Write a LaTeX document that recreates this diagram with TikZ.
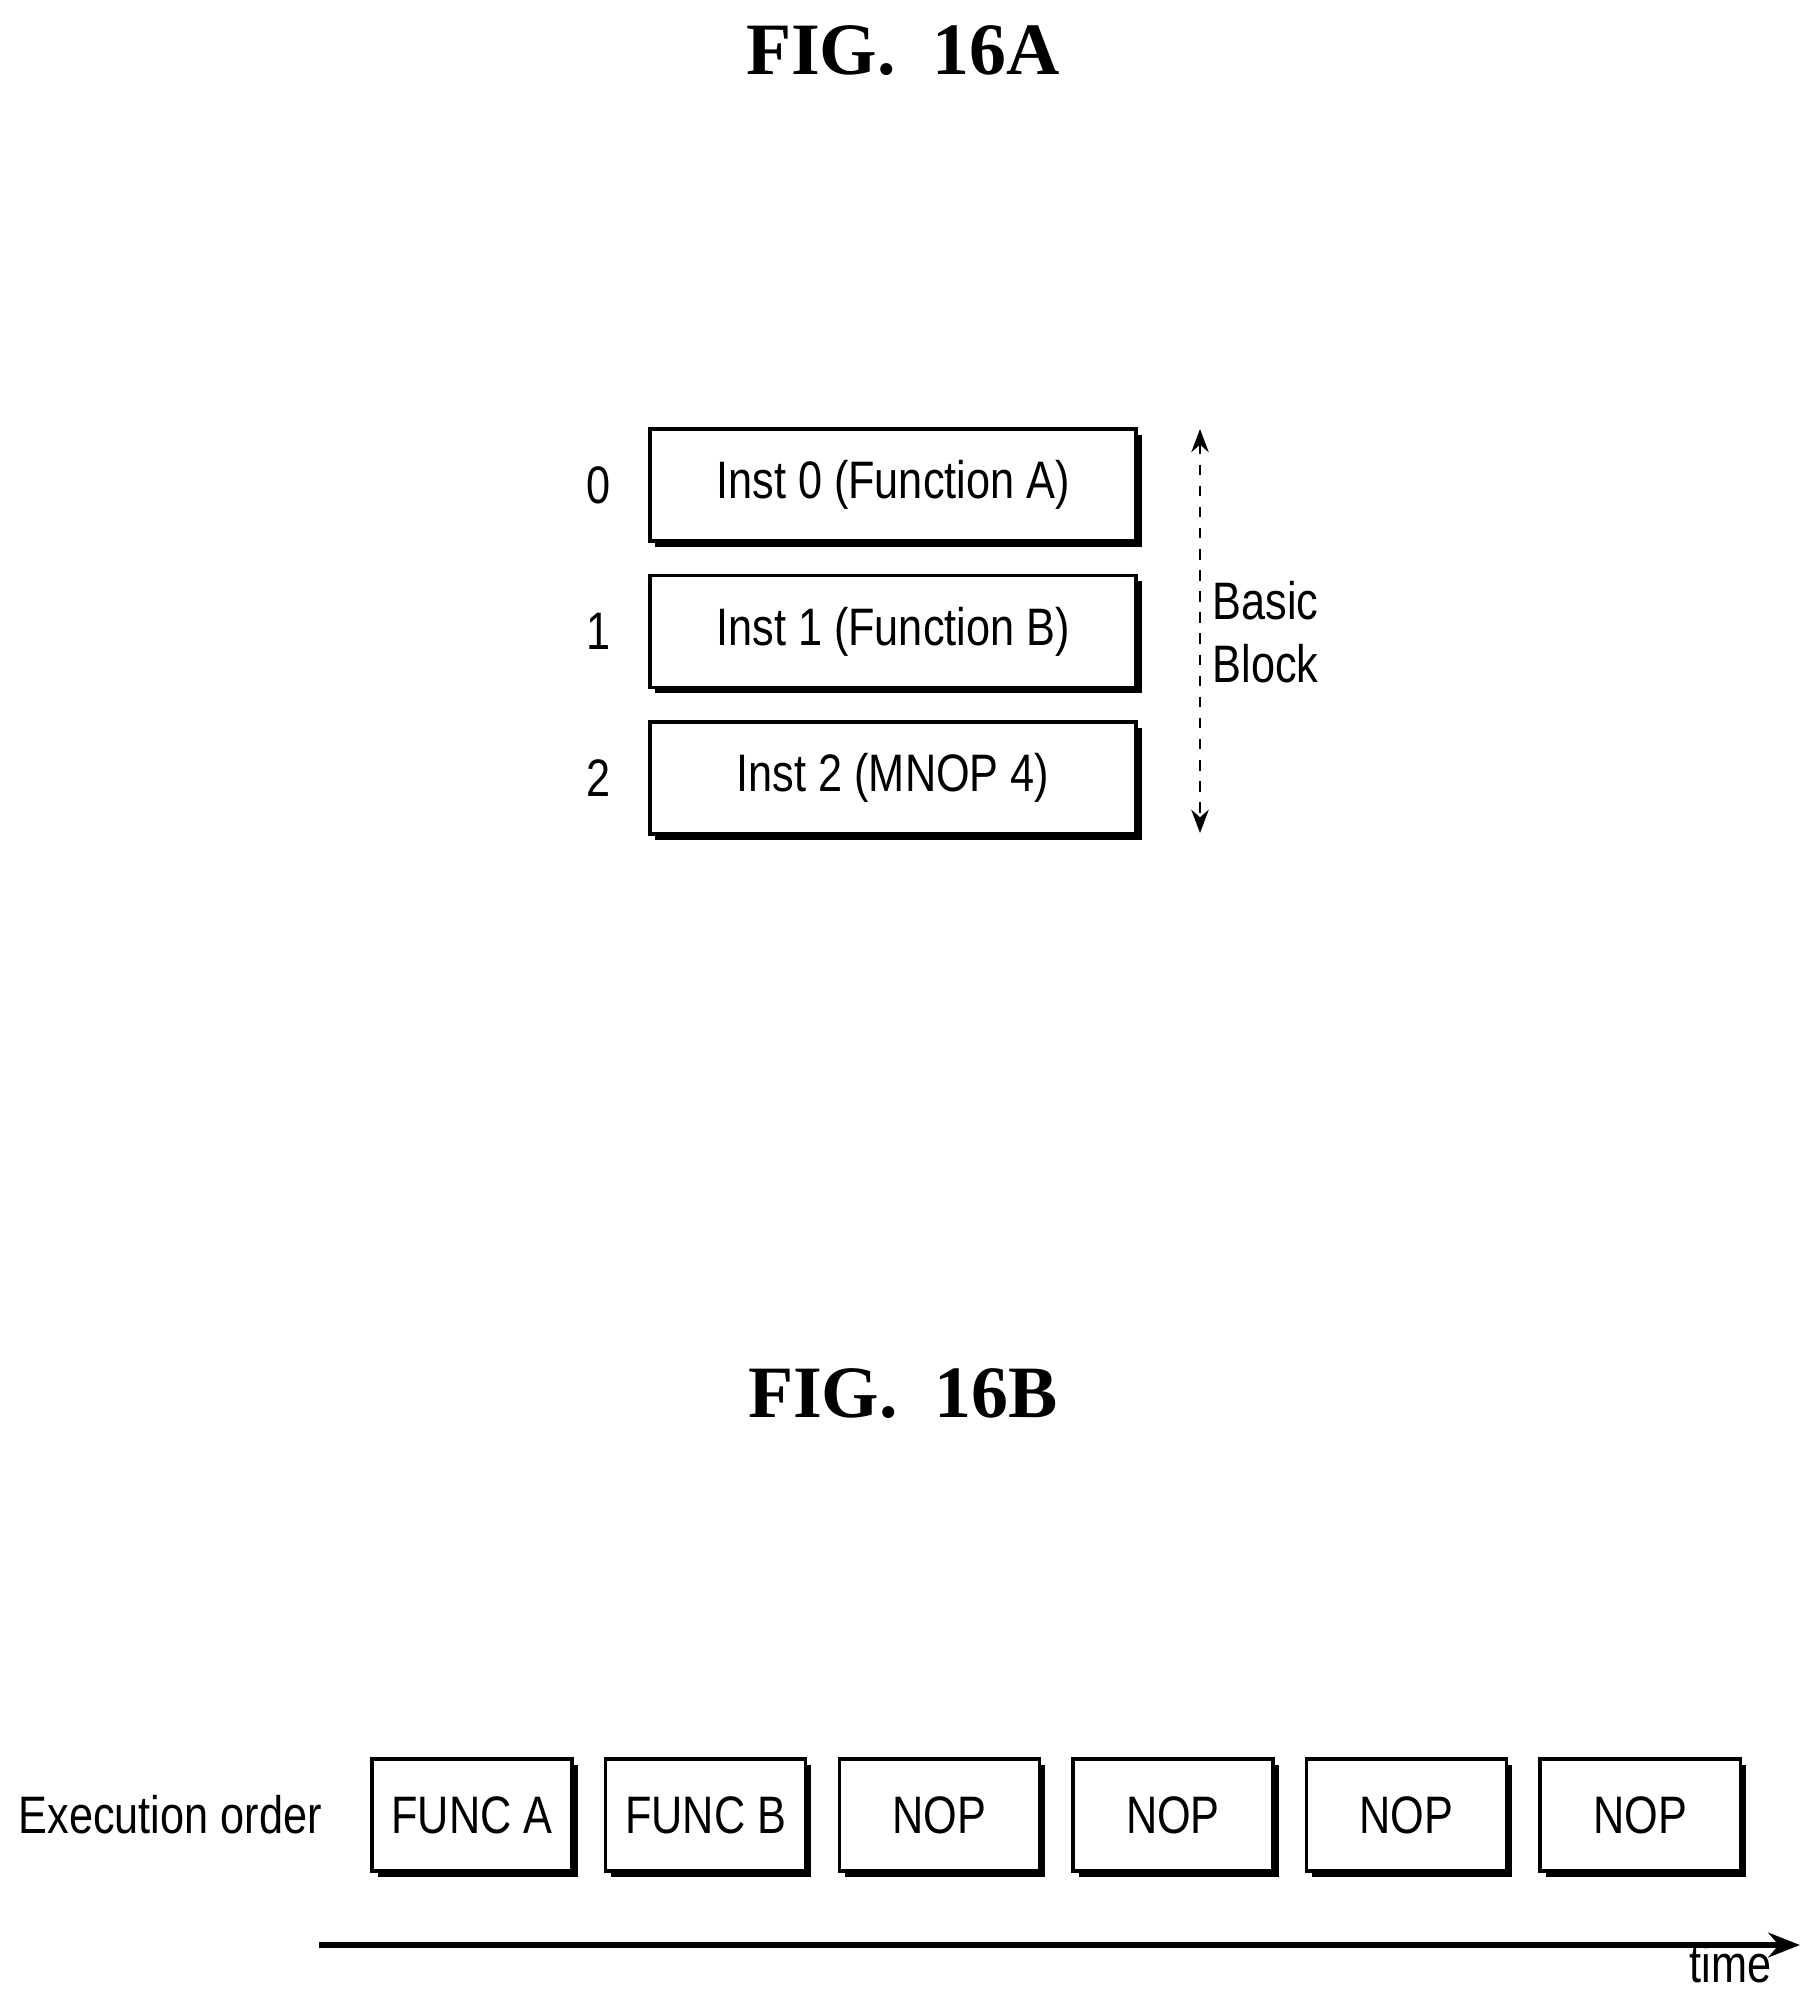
\documentclass[tikz,border=0pt]{standalone}
\usepackage{fontspec}
\setmainfont{Liberation Sans}[FakeStretch=0.82]
\newfontfamily\figfont{Liberation Serif}
\usetikzlibrary{positioning,shadows,arrows.meta}
\begin{document}
\begin{tikzpicture}[x=0.01cm, y=-0.01cm,
    >=Stealth,
    box/.style={draw, line width=1pt, fill=white, minimum height=1.12cm,
        font=\fontsize{15}{18}\selectfont,
        drop shadow={shadow xshift=1.6pt, shadow yshift=-1.6pt, fill=black, opacity=1}},
    instbox/.style={box, minimum width=4.86cm},
    execbox/.style={box, minimum width=2.0cm},
    label/.style={font=\fontsize{15}{18}\selectfont},
    title/.style={font=\figfont\bfseries\fontsize{21}{24}\selectfont},
]
    \useasboundingbox (0,0) rectangle (1806,1992);

    % FIG. 16A
    \node[title] (titleA) at (903,51) {FIG.~~16A};
    \node[instbox] (inst0) at (893,485) {Inst 0 (Function A)};
    \node[instbox, below=0.31cm of inst0] (inst1) {Inst 1~(Function B)};
    \node[instbox, below=0.31cm of inst1] (inst2) {Inst 2 (MNOP 4)};
    \foreach \i in {0,1,2}
        \node[label, left=0.25cm of inst\i] (idx\i) {\i};

    % basic block extent
    \coordinate (bbtop) at (1200,429);
    \coordinate (bbbot) at (1200,833);
    \draw[dashed, <->, line width=0.8pt] (bbtop) -- (bbbot);
    \node[label, anchor=west, align=left, inner sep=0pt] (bb) at (1212,632) {Basic\\Block};

    % FIG. 16B
    \node[title] (titleB) at (903,1394) {FIG.~~16B};
    \node[execbox] (ex1) at (472,1815) {FUNC A};
    \node[execbox, right=0.3cm of ex1] (ex2) {FUNC B};
    \foreach \i [remember=\i as \j (initially 2)] in {3,...,6}
        \node[execbox, right=0.3cm of ex\j] (ex\i) {NOP};
    \node[label, anchor=west, inner sep=0pt] (order) at (18,1815) {Execution order};

    % time axis
    \coordinate (t0) at (319,1945);
    \coordinate (t1) at (1800,1945);
    \draw[-{Stealth[length=9pt,width=7pt]}, line width=1.6pt] (t0) -- (t1);
    \node[label, anchor=base east, inner sep=0pt] (time) at (1772,1982) {time};
\end{tikzpicture}
\end{document}
